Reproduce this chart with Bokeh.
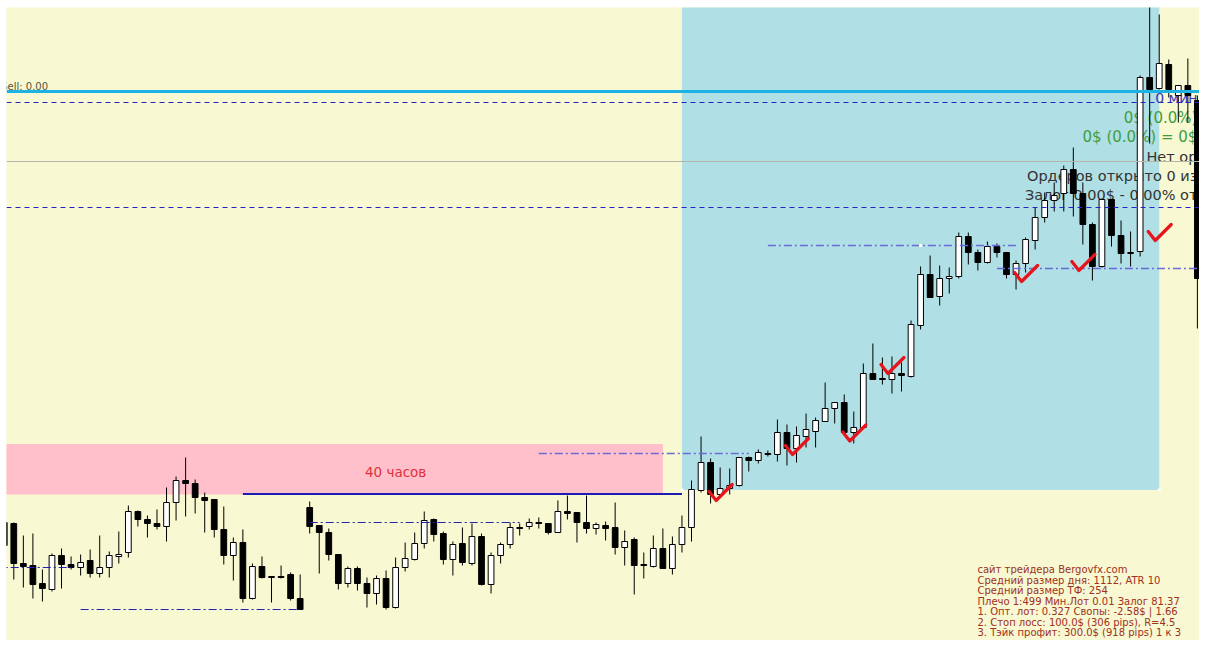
from bokeh.plotting import figure
from bokeh.models import Range1d, Span
from bokeh.core.properties import value
from bokeh.embed import file_html
from bokeh.resources import INLINE

# ---------------- data (chart points) ----------------
bar_index = list(range(-1, 126))
opens = [134, 133, 93, 91, 73, 67, 101, 92, 89, 96, 83, 89, 100, 104, 145, 137, 133, 130, 154, 176,
         173, 159, 157, 127, 101, 114, 58, 90, 80, 80, 82, 58, 149, 131, 124, 102, 73, 88, 73, 63,
         78, 49, 89, 97, 113, 137, 123, 97, 113, 93, 120, 72, 101, 112, 129, 130, 134, 133, 124, 145,
         144, 134, 128, 131, 129, 109, 117, 92, 90, 108, 88, 112, 129, 166, 194, 162, 168, 171, 199, 196,
         203, 202, 224, 208, 220, 225, 235, 248, 254, 224, 229, 283, 278, 277, 283, 280, 331, 382, 360, 378,
         380, 420, 404, 394, 410, 404, 382, 393, 416, 439, 456, 463, 487, 463, 432, 390, 457, 421, 403, 405,
         579, 568, 592, 561, 571, 556, 378]
highs = [138, 134, 121, 123, 87, 103, 108, 100, 102, 107, 121, 105, 125, 151, 146, 141, 147, 169, 180, 199,
         177, 164, 157, 150, 119, 127, 93, 100, 80, 91, 84, 82, 155, 131, 128, 102, 90, 90, 79, 81,
         86, 99, 114, 124, 145, 138, 125, 115, 129, 133, 123, 104, 114, 134, 133, 138, 139, 133, 156, 161,
         144, 161, 134, 135, 154, 126, 119, 104, 121, 128, 120, 141, 176, 220, 198, 189, 188, 199, 200, 207,
         206, 237, 232, 230, 243, 239, 274, 254, 262, 245, 293, 313, 299, 300, 294, 336, 390, 401, 391, 389,
         424, 424, 407, 415, 413, 404, 396, 419, 449, 464, 474, 491, 509, 474, 434, 458, 457, 436, 425, 581,
         661, 642, 597, 571, 598, 561, 450]
lows = [96, 77, 69, 58, 55, 65, 68, 87, 81, 79, 79, 79, 93, 99, 130, 119, 127, 115, 136, 140,
        143, 124, 119, 92, 76, 54, 57, 78, 54, 78, 56, 47, 123, 83, 96, 67, 69, 66, 49, 52,
        47, 48, 85, 96, 108, 115, 92, 81, 91, 91, 71, 63, 93, 108, 121, 127, 128, 122, 124, 137,
        114, 123, 122, 116, 102, 91, 62, 78, 89, 88, 82, 104, 115, 164, 153, 161, 162, 170, 185, 193,
        200, 195, 191, 194, 209, 209, 235, 233, 224, 213, 229, 277, 272, 263, 265, 279, 327, 359, 351, 363,
        378, 392, 386, 393, 399, 378, 367, 384, 407, 434, 445, 445, 440, 412, 376, 389, 410, 393, 390, 400,
        513, 567, 559, 534, 534, 328, 373]
closes = [111, 93, 90, 72, 68, 101, 92, 89, 94, 83, 89, 101, 102, 145, 137, 133, 130, 154, 176, 173,
          159, 156, 127, 101, 114, 58, 90, 79, 79, 79, 58, 47, 130, 124, 102, 73, 88, 73, 63, 78,
          49, 89, 98, 113, 136, 122, 97, 112, 94, 120, 72, 101, 112, 129, 128, 134, 133, 124, 145, 143,
          134, 128, 132, 128, 109, 115, 91, 91, 108, 88, 112, 129, 167, 194, 162, 168, 171, 199, 196, 204,
          202, 224, 208, 221, 227, 236, 248, 254, 224, 229, 283, 277, 277, 283, 281, 332, 382, 359, 378, 380,
          420, 404, 394, 410, 404, 382, 393, 417, 439, 456, 461, 487, 463, 432, 390, 457, 421, 403, 404, 579,
          567, 593, 567, 571, 561, 378, 408]

# full-width horizontal levels
level_cyan = 565
level_dashed = [554, 449]
level_gray = 495

# dash-dot levels (start bar, end bar, price)
dd_start = [-2, 7, 31]
dd_end = [6, 30, 53]
dd_price = [89, 47, 134]
dd2_start = [55, 79, 103]
dd2_end = [77, 105, 128]
dd2_price = [203, 411, 388]

# solid resistance line
res_start, res_end, res_price = 24, 70, 162.5

# zones
pink_start, pink_end, pink_low, pink_high = -3, 68, 162, 212.5
blue_start, blue_end, blue_low, blue_high = 70, 120, 166.5, 700

# check marks (bar, price)
check_bar = [74, 82, 88, 92, 106, 112, 120]
check_price = [164, 210, 223.5, 291, 383, 394, 424]

info_lines = [
    "сайт трейдера Bergovfx.com",
    "Средний размер дня: 1112, ATR 10",
    "Средний размер ТФ: 254",
    "Плечо 1:499 Мин.Лот 0.01 Залог 81.37",
    "1. Опт. лот: 0.327 Свопы: -2.58$ | 1.66",
    "2. Стоп лосс: 100.0$ (306 pips), R=4.5",
    "3. Тэйк профит: 300.0$ (918 pips) 1 к 3",
]

# ---------------- figure ----------------
W, H = 1199, 640
PX = 9.545  # pixels per bar
p = figure(width=W, height=H, x_range=Range1d(-0.765, 124.22), y_range=Range1d(16, 649),
           output_backend="svg", toolbar_location=None,
           min_border_left=6, min_border_top=7, min_border_right=0, min_border_bottom=0)
p.axis.visible = False
p.xgrid.visible = False
p.ygrid.visible = False
p.outline_line_color = None
p.background_fill_color = "#F8F8D2"
p.border_fill_color = "white"

FONT = value("DejaVu Sans")
RIGHT = 124.0

# zones
p.quad(left=[pink_start], right=[pink_end], bottom=[pink_low], top=[pink_high],
       fill_color="#FFC0CB", line_color=None)
p.quad(left=[blue_start], right=[blue_end], bottom=[blue_low], top=[blue_high],
       fill_color="#B0DFE5", line_color=None)

p.text(x=[40], y=[185], text=["40 часов"], text_font=FONT, text_font_size=value("13.5px"),
       text_color="#E0303C", text_align="center", text_baseline="middle")

# right-side info (under candles)
p.text(x=[RIGHT], y=[559], text=["0 мин"], text_font=FONT, text_font_size=value("14px"),
       text_color="#3434B8", text_baseline="middle", text_align="right")
p.text(x=[RIGHT, RIGHT], y=[539, 520], text=["0$ (0.0%)", "0$ (0.0%) = 0$"], text_font=FONT,
       text_font_size=value("15px"), text_color="#3E9E3E", text_baseline="middle", text_align="right")
p.text(x=[RIGHT, RIGHT, RIGHT], y=[500, 480.5, 462],
       text=["Нет ор", "Ордеров открыто 0 из", "Залог 0.00$ - 0.00% от"],
       text_font=FONT, text_font_size=value("14.5px"), text_color="#333333",
       text_baseline="middle", text_align="right")

# candles
p.segment(x0=bar_index, y0=lows, x1=bar_index, y1=highs, line_color="black", line_width=1)
up_x = [i for i, o, c in zip(bar_index, opens, closes) if c >= o]
up_top = [c for o, c in zip(opens, closes) if c >= o]
up_bot = [o for o, c in zip(opens, closes) if c >= o]
dn_x = [i for i, o, c in zip(bar_index, opens, closes) if c < o]
dn_top = [o for o, c in zip(opens, closes) if c < o]
dn_bot = [c for o, c in zip(opens, closes) if c < o]
p.vbar(x=up_x, width=0.6, top=up_top, bottom=up_bot, fill_color="white", line_color="black", line_width=1)
p.vbar(x=dn_x, width=0.6, top=dn_top, bottom=dn_bot, fill_color="black", line_color="black", line_width=1)

# levels
p.segment(x0=dd_start, y0=dd_price, x1=dd_end, y1=dd_price, line_color="#2222B0",
          line_width=1, line_dash="8 3 2 3")
p.segment(x0=dd2_start, y0=dd2_price, x1=dd2_end, y1=dd2_price, line_color="#6A6AD8",
          line_width=1.3, line_dash="8 3 2 3")
p.segment(x0=[res_start], y0=[res_price], x1=[res_end], y1=[res_price], line_color="#1C1CB4", line_width=2)
p.scatter(x=[blue_start, 95, blue_end], y=[blue_low, 411, blue_low], marker="square", size=3,
          fill_color="white", line_color=None)

p.add_layout(Span(location=level_cyan, dimension="width", line_color="#1CB2E4", line_width=3))
for lv in level_dashed:
    p.add_layout(Span(location=lv, dimension="width", line_color="#2424C0", line_width=1, line_dash="5 4"))
p.add_layout(Span(location=level_gray, dimension="width", line_color="#B4B4A8", line_width=1))

# check marks: a short left stroke and a long right stroke around each anchor
tick_xs = [[b - 11 / PX, b - 4 / PX, b + 12 / PX] for b in check_bar]
tick_ys = [[pr + 1, pr - 8, pr + 8] for pr in check_price]
p.multi_line(xs=tick_xs, ys=tick_ys, line_color="#E8141C", line_width=3.2,
             line_join="round", line_cap="round")

p.text(x=[-1.32], y=[570], text=["Sell: 0.00"], text_font=FONT, text_font_size=value("10px"),
       text_color="#55553C", text_baseline="middle")

# bottom-right info block
p.text(x=[100.96] * len(info_lines), y=[87 - 10.5 * k for k in range(len(info_lines))], text=info_lines,
       text_font=FONT, text_font_size=value("10px"), text_color="#A03020", text_baseline="middle")

open("out.html", "w").write(file_html(p, INLINE))
